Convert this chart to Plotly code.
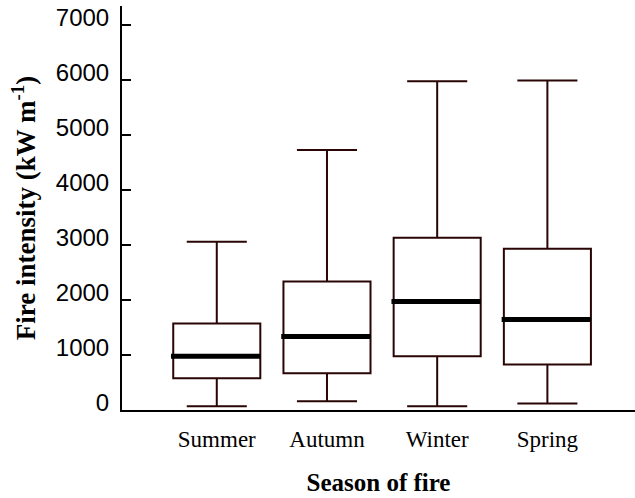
import plotly.graph_objects as go

seasons = ["Summer", "Autumn", "Winter", "Spring"]
lower_whisker = [60, 150, 60, 110]
q1 = [570, 660, 970, 820]
median = [970, 1330, 1965, 1640]
q3 = [1565, 2330, 3125, 2925]
upper_whisker = [3050, 4720, 5970, 5985]
y_ticks = [0, 1000, 2000, 3000, 4000, 5000, 6000, 7000]

positions = list(range(len(seasons)))
box_w = 0.79

fig = go.Figure()
fig.add_trace(go.Box(
    x=positions,
    q1=q1, median=median, q3=q3,
    lowerfence=lower_whisker, upperfence=upper_whisker,
    width=box_w,
    whiskerwidth=0.69,
    fillcolor="white",
    line=dict(color="#2a0505", width=2),
    boxpoints=False,
    hoverinfo="skip",
    showlegend=False,
))

mx, my = [], []
for p, m in zip(positions, median):
    mx += [p - box_w / 2 - 0.02, p + box_w / 2, None]
    my += [m, m, None]
fig.add_trace(go.Scatter(
    x=mx, y=my, mode="lines",
    line=dict(color="black", width=5),
    hoverinfo="skip", showlegend=False,
))

fig.update_layout(
    width=635, height=498,
    margin=dict(l=122, r=0, t=6, b=88),
    paper_bgcolor="white", plot_bgcolor="white",
    font=dict(family="Liberation Serif", color="black"),
)
fig.update_xaxes(
    range=[-0.86, 3.795],
    automargin=False,
    tickvals=positions, ticktext=seasons,
    tickfont=dict(family="Liberation Serif", size=23, color="black"),
    ticklabelstandoff=7,
    showline=True, linecolor="black", linewidth=2,
    showgrid=False, zeroline=False, ticks="",
    title=dict(text="<b>Season of fire</b>",
               font=dict(family="Liberation Serif", size=25, color="black"),
               standoff=23),
)
fig.update_yaxes(
    range=[-8, 7340],
    automargin=False,
    tickvals=y_ticks,
    tickfont=dict(family="Liberation Sans", size=24, color="black"),
    ticks="inside", ticklen=9, tickwidth=2, tickcolor="black",
    ticklabelshift=-7, ticklabelstandoff=6,
    showline=True, linecolor="black", linewidth=2,
    showgrid=False, zeroline=False,
    title=dict(text="<b>Fire intensity (kW m<sup>-1</sup>)</b>",
               font=dict(family="Liberation Serif", size=27, color="black"),
               standoff=12),
)

fig.write_html(
    "out.html",
    config={"displayModeBar": False},
    post_script="document.body.style.margin='0';document.body.style.overflow='hidden';",
)
